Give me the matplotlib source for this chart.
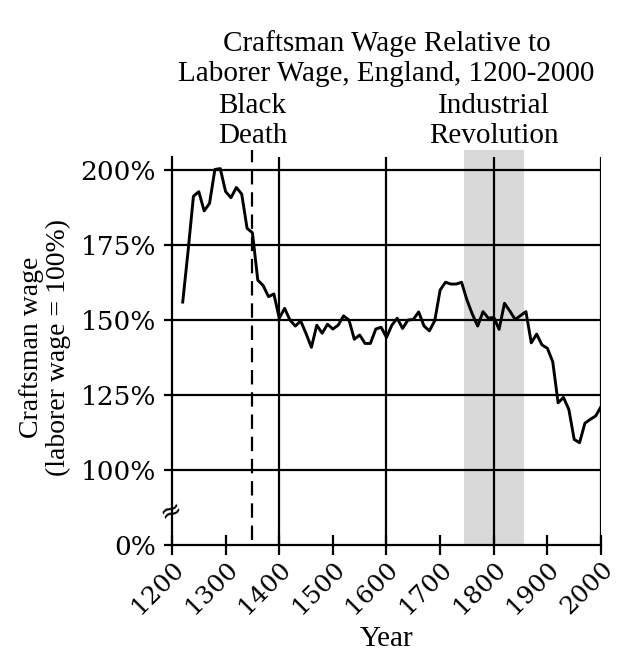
import numpy as np
import matplotlib
matplotlib.use("Agg")
import matplotlib.pyplot as plt
import matplotlib.transforms as mtransforms

# -------------------------
# Data
# -------------------------
years = list(range(1220, 2001, 10))
wage_pct = [
    156.0, 173.0, 191.3, 192.8, 186.4, 188.9, 200.2, 200.5, 192.8, 190.8,
    194.2, 192.0, 180.6, 179.1, 163.3, 161.5, 157.8, 158.7, 150.6, 153.9,
    150.0, 148.0, 149.7, 145.5, 140.9, 148.3, 145.6, 148.6, 147.0, 148.3,
    151.4, 150.0, 143.6, 145.0, 142.2, 142.2, 147.0, 147.6, 144.2, 148.3,
    150.6, 147.2, 150.0, 150.2, 152.7, 148.0, 146.4, 149.8, 160.0, 162.6,
    162.0, 162.0, 162.6, 156.7, 152.0, 148.0, 152.8, 150.6, 150.9, 146.9,
    155.6, 153.0, 150.2, 151.5, 152.8, 142.4, 145.3, 141.7, 140.6, 136.1,
    122.4, 124.2, 120.2, 110.2, 109.1, 115.6, 116.9, 118.0, 121.1,
]

ytick_vals = [0, 100, 125, 150, 175, 200]
ytick_labels = ["0%", "100%", "125%", "150%", "175%", "200%"]
xtick_vals = list(range(1200, 2001, 100))
xgrid_vals = [1400, 1600, 1800, 2000]

black_death = 1350
ind_rev = (1744, 1857)


# broken axis: 0% is drawn one step (25 points) below 100%
def squash(v):
    v = np.asarray(v, dtype=float)
    return np.where(v < 100, v + 75, v)


TEXT_FONT = "Liberation Serif"
TICK_FONT = "DejaVu Serif"
plt.rcParams["font.family"] = TEXT_FONT

fig = plt.figure(figsize=(6.18, 6.57), dpi=100)
ax = fig.add_axes([0.2783, 0.1705, 0.6942, 0.6012])

ymin, ytop, ymax = 75, 204.3, 206.7
ax.set_xlim(1200, 2000)
ax.set_ylim(ymin, ymax)

# shaded industrial revolution
ax.axvspan(ind_rev[0], ind_rev[1], color="#d9d9d9", lw=0, zorder=0)

# grid
ax.hlines([100, 125, 150, 175, 200], 1200, 2000, color="black", lw=1.6, zorder=1)
ax.vlines(xgrid_vals, ymin, ytop, color="black", lw=1.6, zorder=1)

# black death
ax.vlines(black_death, ymin + 1.5, ymax, color="black", lw=1.6,
          linestyles=(0, (6.5, 3.5)), zorder=2)

# wage line
ax.plot(years, squash(wage_pct), color="black", lw=2.1, zorder=3,
        solid_joinstyle="round")

for s in ["top", "right"]:
    ax.spines[s].set_visible(False)
for s in ["left", "bottom"]:
    ax.spines[s].set_linewidth(1.6)
ax.spines["left"].set_bounds(ymin, ytop)

ax.set_yticks(squash(ytick_vals))
ax.set_yticklabels(ytick_labels, fontfamily=TICK_FONT, fontsize=19)
ax.set_xticks(xtick_vals)
ax.set_xticklabels([str(x) for x in xtick_vals], rotation=45,
                   ha="right", rotation_mode="anchor",
                   fontfamily=TICK_FONT, fontsize=18)
ax.tick_params(axis="y", direction="out", length=5.5, width=1.6, pad=6)
ax.tick_params(axis="x", direction="inout", length=14, width=1.6, pad=2)

# axis break mark
ax.text(1197, 86.3, "≈", ha="center", va="center", rotation=25,
        fontsize=19, fontfamily="DejaVu Sans", clip_on=False)

ax.set_xlabel("Year", fontsize=21, labelpad=5)
ax.set_ylabel("Craftsman wage\n(laborer wage = 100%)", fontsize=20,
              labelpad=6.5, linespacing=1.1)

H = 657.0
trans = mtransforms.blended_transform_factory(ax.transData, fig.transFigure)
for x, lines in [(black_death, ["Black", "Death"]),
                 (1800, ["Industrial", "Revolution"])]:
    for txt, base in zip(lines, [113, 143]):
        ax.text(x, 1 - base / H, txt, transform=trans, ha="center",
                va="baseline", fontsize=21)

xc = (0.2783 + 0.2783 + 0.6942) / 2
for txt, base in [("Craftsman Wage Relative to", 51),
                  ("Laborer Wage, England, 1200-2000", 81)]:
    fig.text(xc, 1 - base / H, txt, ha="center", va="baseline", fontsize=21)

fig.savefig("out.png", dpi=100)
